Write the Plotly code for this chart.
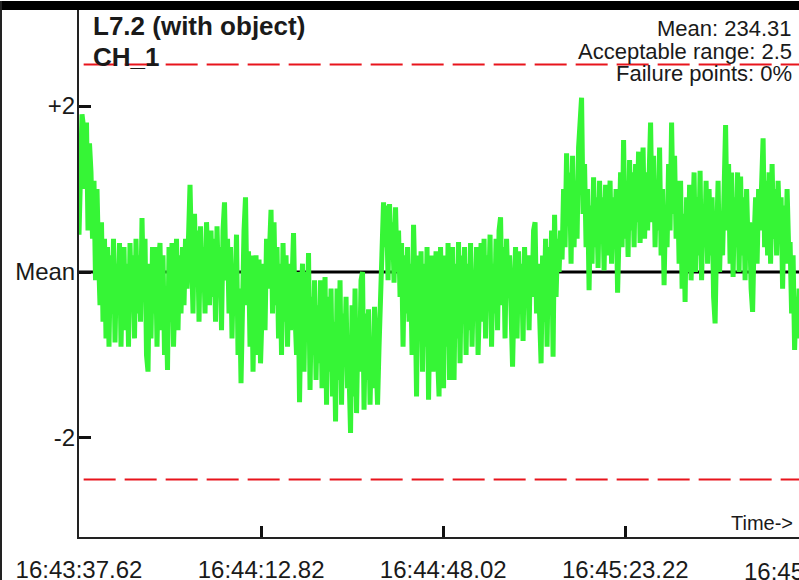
import plotly.graph_objects as go

# ---------------- data ----------------
TICK_SECONDS = [0.0, 35.2, 70.4, 105.6, 140.8]
TICK_LABELS = ["16:43:37.62", "16:44:12.82", "16:44:48.02", "16:45:23.22", "16:45:58.42"]
SAMPLE_PERIOD = 0.29  # seconds between plotted samples

# deviation from the mean (units of the y ticks)
DEVIATION = [
    0.45, 1.6, 1.9, 1.75, 1.0, 1.8, 0.5, 1.55, 1.2, 0.4,
    1.1, -0.1, 1.0, 0.2, -0.4, 0.6, -0.6, 0.4, -0.8, 0.3,
    -0.9, 0.2, -0.5, 0.4, -0.85, 0.1, -0.3, 0.35, -0.9, 0.0,
    0.3, -0.7, 0.1, -0.9, 0.35, -0.4, 0.2, -0.8, 0.4, -0.5,
    0.2, -0.6, 0.65, -0.3, 0.4, -1.0, -1.2, 0.1, -0.8, 0.3,
    -0.5, 0.3, -0.9, 0.1, 0.35, -0.7, 0.2, -1.0, -0.3, -1.18,
    0.3, -0.6, 0.35, -0.9, 0.0, 0.4, -0.7, 0.2, -0.5, 0.3,
    -0.4, 0.4, -0.2, 0.6, 1.05, 0.2, -0.5, 0.7, -0.1, 0.5,
    -0.6, 0.55, -0.2, 0.3, -0.5, 0.6, 0.0, -0.4, 0.5, -0.3,
    0.4, -0.6, 0.55, -0.2, 0.3, -0.7, 0.5, 0.84, -0.1, 0.4,
    -0.5, 0.3, -0.8, 0.1, -0.3, 0.45, -1.0, -0.2, -1.34, 0.0,
    0.5, 0.9, -0.4, 0.25, -0.9, 0.2, -1.2, -0.1, 0.2, -1.0,
    0.15, -1.1, -0.3, 0.1, -0.7, 0.4, -0.2, 0.5, 0.75, -0.5,
    0.6, -0.4, 0.3, -0.8, 0.1, -1.0, 0.35, -0.6, 0.2, -0.9,
    0.1, -0.7, 0.3, 0.47, -0.5, -1.0, 0.0, -1.57, -0.4, 0.1,
    -1.2, 0.0, -0.8, 0.23, -1.42, -0.3, -1.0, -0.1, -1.3, -0.4,
    -1.1, -0.1, -1.4, -0.5, -0.06, -1.6, -0.3, -1.2, -0.2, -1.5,
    -0.6, -1.8, -0.2, -1.3, -0.1, -1.6, -0.5, -1.1, -0.3, -1.4,
    -1.2, -1.94, -0.4, -1.5, -0.2, -1.7, -0.6, -1.2, -0.1, 0.0,
    -1.66, -0.5, -1.3, -0.45, -1.6, -0.8, -1.4, -0.42, -1.1, -1.6,
    -0.9, -0.4, 0.2, 0.84, 0.3, 0.8, -0.1, 0.82, 0.2, 0.6,
    -0.13, 0.78, 0.0, 0.5, -0.3, 0.35, -0.9, 0.2, -0.5, 0.3,
    -0.6, 0.1, -1.0, 0.57, -0.2, -1.5, 0.2, -0.8, 0.25, -1.2,
    0.1, -0.9, 0.3, -1.54, -0.4, 0.2, -1.2, -0.2, 0.25, -1.0,
    -1.5, 0.3, -0.6, -1.4, 0.2, -0.9, 0.35, -1.3, -0.1, 0.3,
    -1.3, 0.1, -0.8, 0.36, -1.1, 0.2, -0.5, 0.3, -1.0, 0.1,
    -0.7, 0.35, -0.9, 0.0, -0.4, 0.3, -1.0, -0.2, 0.35, -0.6,
    0.4, -0.8, 0.2, -0.3, 0.45, -0.9, 0.1, -0.5, 0.4, -0.7,
    0.5, 0.66, -0.4, 0.3, -0.8, 0.4, -0.2, 0.2, -0.9, -1.14,
    -0.3, 0.3, -0.8, 0.25, -0.5, 0.1, -0.83, 0.3, -0.4, 0.2,
    -0.7, 0.2, -0.3, 0.5, 0.6, -0.5, 0.1, -0.9, -1.1, 0.2,
    -0.6, 0.4, -0.9, 0.3, -0.4, 0.5, -1.02, 0.69, -0.3, 0.4,
    0.0, 0.5, 0.15, 1.0, 0.3, 1.43, 0.6, 1.2, 0.1, 1.4,
    0.3, 1.1, 0.4, 1.5, 2.0, 2.1, 0.7, 1.3, 0.3, 1.0,
    -0.22, 0.8, 0.1, 1.14, 0.3, 0.9, 0.05, 1.1, 0.4, 0.9,
    0.02, 1.05, 0.2, 0.7, 1.1, 0.1, 0.9, 0.3, 1.0, -0.25,
    0.6, 1.2, 0.3, 1.59, 0.4, 1.1, 0.18, 1.35, 0.5, 1.2,
    0.3, 1.3, 0.6, 1.45, 0.35, 1.0, 1.5, 0.4, 1.2, 0.5,
    1.3, 1.8, 0.6, 1.4, 0.3, 1.1, 0.5, 1.5, 0.2, 1.0,
    -0.16, 0.8, 0.3, 1.3, 0.5, 1.8, 0.7, 1.4, 0.4, 1.1,
    0.1, 1.1, -0.2, 0.7, -0.36, 0.9, 0.0, 1.05, -0.1, 0.6,
    1.2, 0.0, 0.9, 0.2, 1.22, -0.1, 0.8, 0.3, 1.1, 0.1,
    1.0, 0.2, 0.9, -0.3, -0.62, 0.4, 1.1, 0.0, 0.7, 0.2,
    1.0, 1.77, 0.5, 1.3, 0.1, 1.2, -0.06, 0.9, 0.3, 1.2,
    0.0, 1.15, 0.2, 0.9, -0.1, 1.0, 0.3, 0.6, -0.2, -0.48,
    0.4, 0.9, 0.1, 1.0, 0.5, 1.2, 1.61, 0.3, 1.1, 0.2,
    1.2, 0.1, 1.3, 0.4, 1.0, 0.2, 1.1, 0.5, 0.9, -0.2,
    0.8, 0.1, 1.0, 0.3, 0.36, -0.5, 0.2, -0.94, -0.3, -0.8,
    -0.2, -0.7, 0.1, -0.9,
]

Y_TICKS = [2, 0, -2]
Y_LABELS = ["+2", "Mean", "-2"]
ACCEPTABLE_RANGE = 2.5
MEAN_VALUE = 234.31
FAILURE_PCT = 0
TITLE_LINES = ["L7.2 (with object)", "CH_1"]

# ---------------- layout geometry ----------------
W, H = 799, 580
ML, MR, MT, MB = 79, 0, 10, 43
PW, PH = W - ML - MR, H - MT - MB
X_MAX = 139.18
Y_MIN, Y_MAX = -3.193, 3.157

FONT = "Liberation Sans, Arial, Helvetica, sans-serif"


def px_x(px):
    return (px - ML) / PW


def px_y(py):
    return (H - MB - py) / PH


times = [i * SAMPLE_PERIOD for i in range(len(DEVIATION))]

fig = go.Figure()

# acceptable range limits
for lim in (ACCEPTABLE_RANGE, -ACCEPTABLE_RANGE):
    fig.add_trace(go.Scatter(
        x=[0.9, X_MAX], y=[lim, lim], mode="lines",
        line=dict(color="#e8141c", width=2, dash="32px,9px"),
        hoverinfo="skip", showlegend=False,
    ))

# mean line
fig.add_trace(go.Scatter(
    x=[0, X_MAX], y=[0, 0], mode="lines",
    line=dict(color="#000000", width=3),
    hoverinfo="skip", showlegend=False,
))

# signal
fig.add_trace(go.Scatter(
    x=times, y=DEVIATION, mode="lines",
    line=dict(color="#36f536", width=5),
    showlegend=False,
))

fig.update_layout(
    width=W, height=H, autosize=False,
    margin=dict(l=ML, r=MR, t=MT, b=MB, pad=0),
    paper_bgcolor="white", plot_bgcolor="white",
    font=dict(family=FONT, color="#1a1a1a"),
    showlegend=False,
    xaxis=dict(
        range=[0, X_MAX], showgrid=False, zeroline=False, automargin=False,
        showline=True, linecolor="#222", linewidth=2,
        ticks="inside", ticklen=11, tickwidth=3, tickcolor="#111",
        tickvals=TICK_SECONDS, ticktext=TICK_LABELS,
        tickfont=dict(size=24, family=FONT, color="#1a1a1a"),
        ticklabelstandoff=10,
    ),
    yaxis=dict(
        range=[Y_MIN, Y_MAX], showgrid=False, zeroline=False, automargin=False,
        showline=True, linecolor="#222", linewidth=2,
        ticks="inside", ticklen=12, tickwidth=3, tickcolor="#111",
        tickvals=Y_TICKS, ticktext=Y_LABELS,
        tickfont=dict(size=24, family=FONT, color="#1a1a1a"),
        ticklabelstandoff=-3,
    ),
)

shapes = [
    # black band at the top
    dict(type="rect", xref="paper", yref="paper",
         x0=px_x(-5), x1=px_x(W + 5), y0=px_y(10), y1=px_y(1),
         fillcolor="#000", line=dict(width=0), layer="above"),
    # left frame edge
    dict(type="line", xref="paper", yref="paper",
         x0=px_x(1), x1=px_x(1), y0=px_y(H + 5), y1=px_y(1),
         line=dict(color="#222", width=2), layer="above"),
]
fig.update_layout(shapes=shapes)

ann = []
# title lines
ann.append(dict(text="<b>%s</b>" % TITLE_LINES[0], xref="paper", yref="paper",
                x=px_x(91), y=px_y(9), xanchor="left", yanchor="top",
                showarrow=False, font=dict(size=26, family=FONT, color="#1a1a1a")))
ann.append(dict(text="<b>%s</b>" % TITLE_LINES[1], xref="paper", yref="paper",
                x=px_x(91), y=px_y(40), xanchor="left", yanchor="top",
                showarrow=False, font=dict(size=26, family=FONT, color="#1a1a1a")))
# stats
stats = ["Mean: %.2f" % MEAN_VALUE,
         "Acceptable range: %s" % ACCEPTABLE_RANGE,
         "Failure points: %d%%" % FAILURE_PCT]
for k, s in enumerate(stats):
    ann.append(dict(text=s, xref="paper", yref="paper",
                    x=px_x(794), y=px_y(14 + 22.5 * k), xanchor="right", yanchor="top",
                    showarrow=False, font=dict(size=22, family=FONT, color="#1a1a1a")))
# axis caption
ann.append(dict(text="Time->", xref="paper", yref="paper",
                x=px_x(795), y=px_y(510), xanchor="right", yanchor="top",
                showarrow=False, font=dict(size=20, family=FONT, color="#1a1a1a")))
# last tick label, clipped by the window edge
ann.append(dict(text=TICK_LABELS[-1], xref="paper", yref="paper",
                x=TICK_SECONDS[-1] / X_MAX, y=px_y(556), xanchor="center", yanchor="top",
                showarrow=False, font=dict(size=24, family=FONT, color="#1a1a1a")))
fig.update_layout(annotations=ann)

fig.write_html(
    "out.html",
    config={"responsive": False, "displayModeBar": False},
    post_script="document.body.style.margin='0';document.body.style.overflow='hidden';",
)
